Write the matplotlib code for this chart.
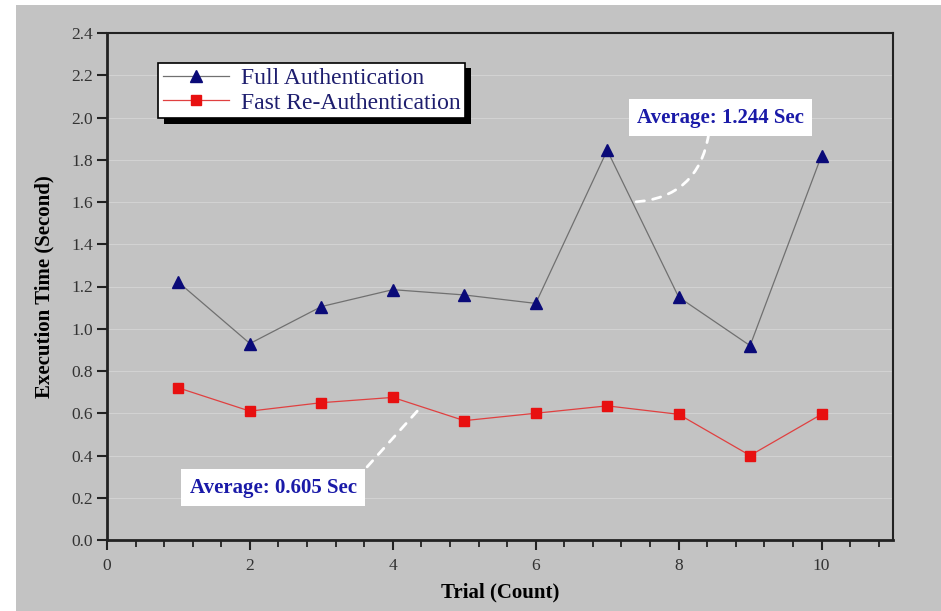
import numpy as np
import matplotlib
matplotlib.use("Agg")
import matplotlib.pyplot as plt
from matplotlib import patheffects
from matplotlib.patches import Rectangle
from matplotlib.ticker import MultipleLocator

# data
trials = [1, 2, 3, 4, 5, 6, 7, 8, 9, 10]
full_auth = [1.22, 0.93, 1.105, 1.185, 1.16, 1.12, 1.845, 1.15, 0.92, 1.82]
fast_reauth = [0.72, 0.61, 0.65, 0.675, 0.565, 0.60, 0.635, 0.595, 0.40, 0.595]
labels = ["Full Authentication", "Fast Re-Authentication"]
avg_texts = ["Average: 1.244 Sec", "Average: 0.605 Sec"]

bg = "#c3c3c3"
plt.rcParams['font.family'] = ['Liberation Serif', 'DejaVu Serif']

fig = plt.figure(figsize=(9.41, 6.11), dpi=100, facecolor="white")
fig.patches.append(Rectangle((16 / 941, 0), 1, 1 - 5 / 611, transform=fig.transFigure,
                             facecolor=bg, edgecolor="none", zorder=-10))
ax = fig.add_axes([107 / 941, 71 / 611, 786 / 941, 507 / 611])
ax.set_facecolor(bg)

ax.plot(trials, full_auth, color="#707070", lw=0.9, marker="^", ms=8,
        mfc="#0a0a78", mec="#0a0a78", label=labels[0], zorder=3)
ax.plot(trials, fast_reauth, color="#e04040", lw=0.9, marker="s", ms=6.5,
        mfc="#e81010", mec="#e81010", label=labels[1], zorder=3)

ax.set_xlim(0, 11)
ax.set_ylim(0, 2.4)
ax.xaxis.set_major_locator(MultipleLocator(2))
ax.xaxis.set_minor_locator(MultipleLocator(0.4))
ax.yaxis.set_major_locator(MultipleLocator(0.2))
ax.yaxis.set_major_formatter(matplotlib.ticker.FormatStrFormatter("%.1f"))
ax.grid(axis="y", color="#d2d2d2", lw=0.8)
ax.set_axisbelow(True)

ax.tick_params(axis="both", which="major", direction="out", length=7, width=1.5,
               labelsize=12.5, labelcolor="#333333", color="#222222")
ax.tick_params(axis="x", which="minor", direction="out", length=5, width=1.3, color="#222222")
ax.tick_params(axis="x", pad=6)
ax.tick_params(axis="y", pad=3)
for s in ["left", "bottom"]:
    ax.spines[s].set_linewidth(2)
for s in ["top", "right"]:
    ax.spines[s].set_linewidth(1.5)
for s in ax.spines.values():
    s.set_color("#222222")

ax.set_xlabel("Trial (Count)", fontsize=15, fontweight="bold", labelpad=6)
ax.set_ylabel("Execution Time (Second)", fontsize=15, fontweight="bold", labelpad=12)

leg = ax.legend(loc="upper left", bbox_to_anchor=(0.065, 0.941), borderaxespad=0,
                fancybox=False, edgecolor="black", facecolor="white", framealpha=1,
                fontsize=17, handlelength=2.8, borderpad=0.2, labelspacing=0.12,
                handletextpad=0.5)
leg.get_frame().set_linewidth(1.2)
leg.get_frame().set_path_effects([
    patheffects.SimplePatchShadow(offset=(4, -4), shadow_rgbFace="black", alpha=1),
    patheffects.Normal()])
for t in leg.get_texts():
    t.set_color("#1e1e6e")

# average annotations
box = dict(boxstyle="square,pad=0.4", facecolor="white", edgecolor="none")
ax.text(8.585, 2.0, avg_texts[0], ha="center", va="center", fontsize=15,
        fontweight="bold", color="#1a1aa8", bbox=box, zorder=5)
ax.text(2.325, 0.247, avg_texts[1], ha="center", va="center", fontsize=15,
        fontweight="bold", color="#1a1aa8", bbox=box, zorder=5)
ax.annotate("", xy=(7.37, 1.60), xytext=(8.42, 1.92),
            arrowprops=dict(arrowstyle="-", color="white", lw=2, ls=(0, (3, 3)),
                            connectionstyle="arc3,rad=-0.4", shrinkA=0, shrinkB=0), zorder=4)
ax.annotate("", xy=(4.36, 0.617), xytext=(3.64, 0.346),
            arrowprops=dict(arrowstyle="-", color="white", lw=2, ls=(0, (3, 3)),
                            shrinkA=0, shrinkB=0), zorder=4)

fig.savefig("out.png", dpi=100, facecolor=fig.get_facecolor())
